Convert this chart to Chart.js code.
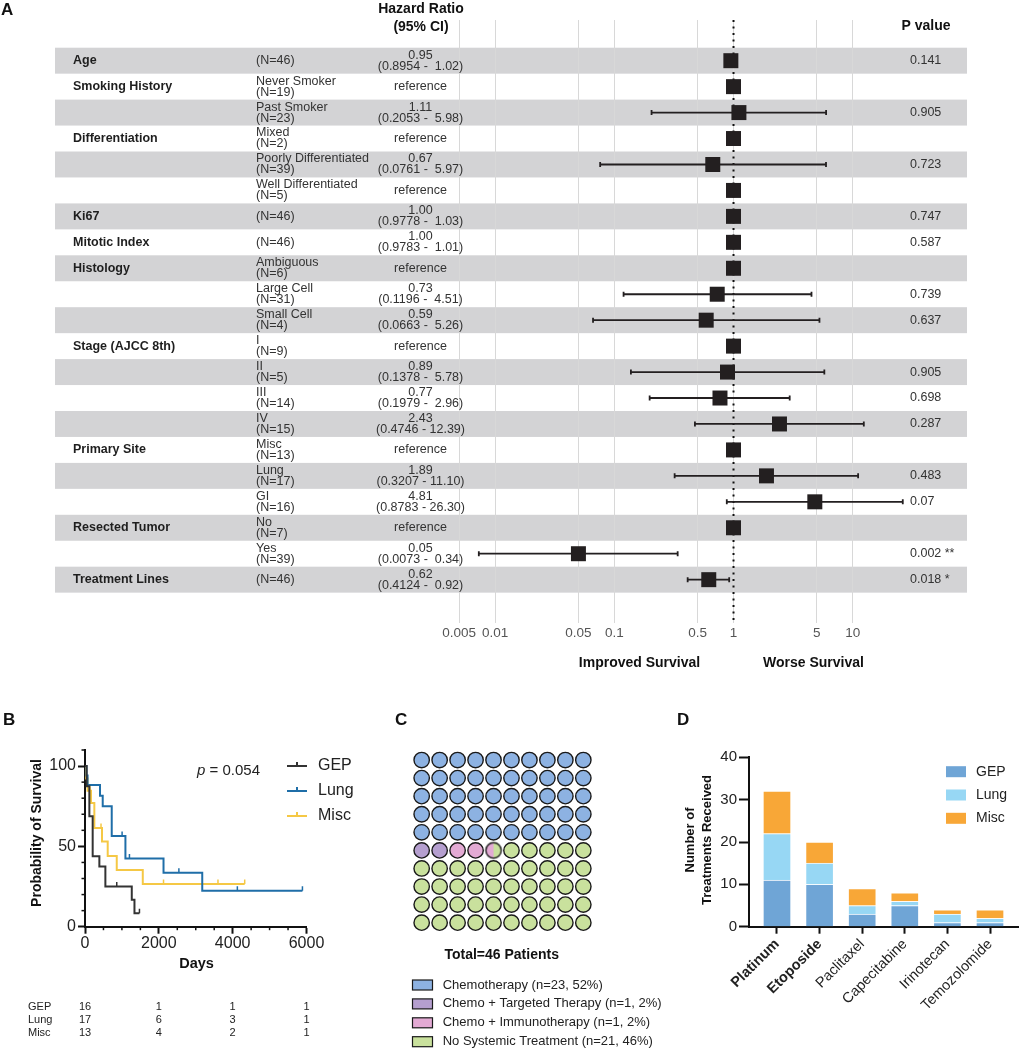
<!DOCTYPE html>
<html>
<head>
<meta charset="utf-8">
<script src="https://cdn.jsdelivr.net/npm/chart.js@4.4.1/dist/chart.umd.min.js"></script>
<style>
  body { margin: 0; background: #fff; }
  #wrap { position: relative; width: 1019px; height: 1050px; overflow: hidden; }
  canvas { position: absolute; }
</style>
</head>
<body>
<div id="wrap">
  <canvas id="forest" width="1019" height="700" style="left:0;top:0"></canvas>
  <canvas id="km" width="370" height="350" style="left:0;top:700px"></canvas>
  <canvas id="waffle" width="340" height="350" style="left:330px;top:700px"></canvas>
  <canvas id="bars" width="349" height="350" style="left:670px;top:700px"></canvas>
</div>
<script>
const FONT = "'Liberation Sans', Arial, Helvetica, sans-serif";

// ---- Panel A: forest plot ----
const rowGroups = ["Age", "Smoking History", "", "Differentiation", "", "", "Ki67", "Mitotic Index", "Histology", "", "",
  "Stage (AJCC 8th)", "", "", "", "Primary Site", "", "", "Resected Tumor", "", "Treatment Lines"];
const rowSubgroups = ["", "Never Smoker", "Past Smoker", "Mixed", "Poorly Differentiated", "Well Differentiated", "", "",
  "Ambiguous", "Large Cell", "Small Cell", "I", "II", "III", "IV", "Misc", "Lung", "GI", "No", "Yes", ""];
const rowN = [46, 19, 23, 2, 39, 5, 46, 46, 6, 31, 4, 9, 5, 14, 15, 13, 17, 16, 7, 39, 46];
const hazard = [0.95, 1, 1.11, 1, 0.67, 1, 1.00, 1.00, 1, 0.73, 0.59, 1, 0.89, 0.77, 2.43, 1, 1.89, 4.81, 1, 0.05, 0.62];
const hrLow = [0.8954, null, 0.2053, null, 0.0761, null, 0.9778, 0.9783, null, 0.1196, 0.0663, null, 0.1378, 0.1979, 0.4746,
  null, 0.3207, 0.8783, null, 0.0073, 0.4124];
const hrHigh = [1.02, null, 5.98, null, 5.97, null, 1.03, 1.01, null, 4.51, 5.26, null, 5.78, 2.96, 12.39,
  null, 11.10, 26.30, null, 0.34, 0.92];
const pValues = ["0.141", "", "0.905", "", "0.723", "", "0.747", "0.587", "", "0.739", "0.637", "", "0.905", "0.698", "0.287",
  "", "0.483", "0.07", "", "0.002 **", "0.018 *"];
const forestTicks = [0.005, 0.01, 0.05, 0.1, 0.5, 1, 5, 10];

// ---- Panel B: Kaplan-Meier ----
const kmNames = ["GEP", "Lung", "Misc"];
const kmColors = ["#333333", "#1f6ea8", "#f5c845"];
const gepDays = [0, 45, 118, 208, 389, 552, 1267, 1340, 1475];
const gepSurv = [100, 87.5, 68.8, 43.8, 37.5, 25.0, 16.7, 8.3, 8.3];
const gepCensorDays = [860, 1475];
const gepCensorSurv = [25.0, 8.3];
const lungDays = [0, 40, 70, 407, 480, 724, 1095, 2127, 3176, 5890];
const lungSurv = [100, 94.1, 88.2, 81.5, 75.0, 56.5, 42.5, 33.6, 22.4, 22.4];
const lungCensorDays = [1005, 1204, 2543, 4127, 5890];
const lungCensorSurv = [56.5, 42.5, 33.6, 22.4, 22.4];
const miscDays = [0, 27, 70, 163, 253, 461, 615, 860, 1565, 4326];
const miscSurv = [100, 92.3, 84.6, 77.0, 61.5, 53.0, 44.0, 35.3, 26.6, 26.6];
const miscCensorDays = [135, 434, 2127, 3602, 4326];
const miscCensorSurv = [84.6, 61.5, 26.6, 26.6, 26.6];
const riskTimes = [0, 2000, 4000, 6000];
const gepAtRisk = [16, 1, 1, 1];
const lungAtRisk = [17, 6, 3, 1];
const miscAtRisk = [13, 4, 2, 1];

// ---- Panel C: waffle ----
const waffleLabels = ["Chemotherapy (n=23, 52%)", "Chemo + Targeted Therapy (n=1, 2%)",
  "Chemo + Immunotherapy (n=1, 2%)", "No Systemic Treatment (n=21, 46%)"];
const waffleCells = [50, 2, 2.5, 45.5];
const waffleColors = ["#8db2e2", "#b59fcf", "#e3aad4", "#c9e19d"];

// ---- Panel D: stacked bars ----
const drugNames = ["Platinum", "Etoposide", "Paclitaxel", "Capecitabine", "Irinotecan", "Temozolomide"];
const drugBold = [true, true, false, false, false, false];
const gepCounts = [11, 10, 3, 5, 1, 1];
const lungCounts = [11, 5, 2, 1, 2, 1];
const miscCounts = [10, 5, 4, 2, 1, 2];
const barNames = ["GEP", "Lung", "Misc"];
const barColors = ["#6fa5d6", "#97d7f4", "#f8a737"];

Chart.defaults.font.family = FONT;
Chart.defaults.color = "#222";
Chart.defaults.animation = false;
Chart.defaults.plugins.legend.display = false;
Chart.defaults.plugins.tooltip.enabled = false;

function txt(ctx, s, x, y, size, opt) {
  opt = opt || {};
  ctx.save();
  ctx.font = (opt.style || "normal") + " " + (opt.weight || "normal") + " " + size + "px " + FONT;
  ctx.fillStyle = opt.color || "#222";
  ctx.textAlign = opt.align || "left";
  ctx.textBaseline = "middle";
  if (opt.rotate) {
    ctx.translate(x, y);
    ctx.rotate(opt.rotate);
    ctx.fillText(s, 0, 0);
  } else {
    ctx.fillText(s, x, y);
  }
  ctx.restore();
}

// forest decorations: bands, whiskers, dotted line, table text
const forestDecor = {
  id: "forestDecor",
  beforeDraw(chart) {
    const ctx = chart.ctx, y = chart.scales.y;
    ctx.save();
    ctx.fillStyle = "#d3d3d5";
    for (let i = 0; i < hazard.length; i += 2) {
      const top = y.getPixelForValue(i - 0.5), bot = y.getPixelForValue(i + 0.5);
      ctx.fillRect(55, top, 967 - 55, bot - top);
    }
    ctx.restore();
  },
  beforeDatasetsDraw(chart) {
    const { ctx, chartArea, scales: { x, y } } = chart;
    ctx.save();
    const x1 = x.getPixelForValue(1);
    ctx.strokeStyle = "#111";
    ctx.lineWidth = 2;
    ctx.setLineDash([2, 4.5]);
    ctx.beginPath();
    ctx.moveTo(x1, chartArea.top);
    ctx.lineTo(x1, chartArea.bottom);
    ctx.stroke();
    ctx.setLineDash([]);
    ctx.strokeStyle = "#231f20";
    ctx.lineWidth = 1.8;
    hrLow.forEach((lo, i) => {
      if (lo == null) return;
      const a = x.getPixelForValue(lo), b = x.getPixelForValue(hrHigh[i]), py = y.getPixelForValue(i);
      ctx.beginPath();
      ctx.moveTo(a, py); ctx.lineTo(b, py);
      ctx.moveTo(a, py - 2.5); ctx.lineTo(a, py + 2.5);
      ctx.moveTo(b, py - 2.5); ctx.lineTo(b, py + 2.5);
      ctx.stroke();
    });
    ctx.restore();
  },
  afterDraw(chart) {
    const { ctx, scales: { y } } = chart;
    txt(ctx, "A", 1, 10, 17, { weight: "bold", color: "#111" });
    txt(ctx, "Hazard Ratio", 421, 9, 14, { weight: "bold", align: "center", color: "#111" });
    txt(ctx, "(95% CI)", 421, 27, 14, { weight: "bold", align: "center", color: "#111" });
    txt(ctx, "P value", 926, 26, 14, { weight: "bold", align: "center", color: "#111" });
    hazard.forEach((h, i) => {
      const cy = y.getPixelForValue(i);
      if (rowGroups[i]) txt(ctx, rowGroups[i], 73, cy, 12.5, { weight: "bold", color: "#1e1e1e" });
      if (rowSubgroups[i]) {
        txt(ctx, rowSubgroups[i], 256, cy - 5.5, 12.5, { color: "#333" });
        txt(ctx, "(N=" + rowN[i] + ")", 256, cy + 5.5, 12.5, { color: "#333" });
      } else {
        txt(ctx, "(N=" + rowN[i] + ")", 256, cy, 12.5, { color: "#333" });
      }
      if (hrLow[i] == null) {
        txt(ctx, "reference", 420.5, cy, 12.5, { align: "center", color: "#333" });
      } else {
        txt(ctx, h.toFixed(2), 420.5, cy - 5.5, 12.5, { align: "center", color: "#333" });
        const ci = "(" + hrLow[i].toFixed(4) + " - " + hrHigh[i].toFixed(2).padStart(5, " ") + ")";
        txt(ctx, ci, 420.5, cy + 5.5, 12.5, { align: "center", color: "#333" });
      }
      if (pValues[i]) txt(ctx, pValues[i], 910, cy, 12.5, { color: "#333" });
    });
    txt(ctx, "Improved Survival", 639.5, 663, 14, { weight: "bold", align: "center", color: "#111" });
    txt(ctx, "Worse Survival", 813.5, 663, 14, { weight: "bold", align: "center", color: "#111" });
  }
};

new Chart(document.getElementById("forest"), {
  type: "scatter",
  data: {
    datasets: [{
      data: hazard.map((v, i) => ({ x: v, y: i })),
      pointStyle: "rect",
      pointRadius: 10.6,
      backgroundColor: "#231f20",
      borderColor: "#231f20",
      borderWidth: 0
    }]
  },
  options: {
    responsive: false,
    layout: { padding: { left: 440, right: 89, top: 20, bottom: 47 } },
    scales: {
      x: {
        type: "logarithmic",
        min: 0.003449,
        max: 44.5,
        afterBuildTicks: s => { s.ticks = forestTicks.map(v => ({ value: v })); },
        afterFit: s => { s.height = 30; },
        grid: { color: "#d8d8d8", drawTicks: false, lineWidth: 1 },
        border: { display: false },
        ticks: { font: { size: 13.5 }, color: "#555", padding: 2, autoSkip: false, maxRotation: 0, callback: v => String(v) }
      },
      y: { type: "linear", reverse: true, min: -1.568, max: 21.67, display: false }
    }
  },
  plugins: [forestDecor]
});

// ---- Panel B ----
function pts(xs, ys) { return xs.map((d, i) => ({ x: d, y: ys[i] })); }
const kmCurves = [pts(gepDays, gepSurv), pts(lungDays, lungSurv), pts(miscDays, miscSurv)];
const kmCensors = [pts(gepCensorDays, gepCensorSurv), pts(lungCensorDays, lungCensorSurv), pts(miscCensorDays, miscCensorSurv)];
const kmRisk = [gepAtRisk, lungAtRisk, miscAtRisk];

const kmDecor = {
  id: "kmDecor",
  afterDraw(chart) {
    const { ctx, scales: { x, y } } = chart;
    ctx.save();
    ctx.strokeStyle = "#111";
    ctx.lineWidth = 1.5;
    for (let v = 10; v <= 110; v += 10) {
      if (v % 50 === 0) continue;
      const py = y.getPixelForValue(v);
      ctx.beginPath(); ctx.moveTo(x.left - 3.5, py); ctx.lineTo(x.left, py); ctx.stroke();
    }
    for (let d = 500; d <= 6000; d += 500) {
      if (d % 2000 === 0) continue;
      const px = x.getPixelForValue(d);
      ctx.beginPath(); ctx.moveTo(px, y.bottom); ctx.lineTo(px, y.bottom + 3.5); ctx.stroke();
    }
    // legend
    kmNames.forEach((n, i) => {
      const ly = 66 + i * 25;
      ctx.strokeStyle = kmColors[i];
      ctx.lineWidth = 2;
      ctx.beginPath(); ctx.moveTo(287, ly); ctx.lineTo(307, ly); ctx.moveTo(297, ly); ctx.lineTo(297, ly - 4); ctx.stroke();
      txt(ctx, n, 318, ly, 16);
    });
    ctx.restore();
    // p value
    ctx.save();
    ctx.font = "italic normal 15px " + FONT;
    const pw = ctx.measureText("p").width;
    ctx.restore();
    txt(ctx, "p", 197, 71, 15, { style: "italic" });
    txt(ctx, " = 0.054", 197 + pw, 71, 15);
    txt(ctx, "B", 3, 20, 17, { weight: "bold", color: "#111" });
    txt(ctx, "Days", 196.5, 264, 14.5, { weight: "bold", align: "center", color: "#111" });
    txt(ctx, "Probability of Survival", 37, 133, 14, { weight: "bold", align: "center", color: "#111", rotate: -Math.PI / 2 });
    // numbers at risk
    kmNames.forEach((n, i) => {
      const ry = 306.7 + i * 13.3;
      txt(ctx, n, 28, ry, 11);
      riskTimes.forEach((t, j) => txt(ctx, String(kmRisk[i][j]), x.getPixelForValue(t), ry, 11, { align: "center" }));
    });
  }
};

const kmSets = [];
kmCurves.forEach((c, i) => kmSets.push({
  type: "line", data: c, borderColor: kmColors[i], borderWidth: 2, stepped: "before", pointRadius: 0, fill: false
}));
kmCensors.forEach((c, i) => kmSets.push({
  type: "scatter", data: c, pointStyle: "dash", pointRotation: -90, pointRadius: 4.5,
  pointBorderColor: kmColors[i], pointBorderWidth: 1.5, showLine: false
}));

new Chart(document.getElementById("km"), {
  type: "line",
  data: { datasets: kmSets },
  options: {
    responsive: false,
    layout: { padding: { left: 35, right: 63.5, top: 50, bottom: 93.3 } },
    scales: {
      x: {
        type: "linear", min: 0, max: 6000,
        afterBuildTicks: s => { s.ticks = riskTimes.map(v => ({ value: v })); },
        afterFit: s => { s.height = 30; },
        grid: { drawOnChartArea: false, tickLength: 7, tickColor: "#111", tickWidth: 2 },
        border: { color: "#111", width: 2 },
        ticks: { font: { size: 16 }, color: "#222", padding: 0, maxRotation: 0, callback: v => String(v) }
      },
      y: {
        type: "linear", min: 0, max: 110,
        afterBuildTicks: s => { s.ticks = [0, 50, 100].map(v => ({ value: v })); },
        afterFit: s => { s.width = 50; },
        grid: { drawOnChartArea: false, tickLength: 7, tickColor: "#111", tickWidth: 2 },
        border: { color: "#111", width: 2 },
        ticks: { font: { size: 16 }, color: "#222", padding: 2 }
      }
    }
  },
  plugins: [kmDecor]
});

// ---- Panel C ----
const halves = [];
waffleCells.forEach((n, c) => { for (let k = 0; k < Math.round(n * 2); k++) halves.push(c); });
const wafflePoints = waffleColors.map(() => []);
const mixedPoints = [];
for (let k = 0; k < 100; k++) {
  const a = halves[2 * k], b = halves[2 * k + 1];
  const p = { x: k % 10, y: Math.floor(k / 10) };
  if (a === b) wafflePoints[a].push(p);
  else mixedPoints.push(Object.assign(p, { left: a, right: b }));
}
function halfDot(left, right) {
  const cv = document.createElement("canvas");
  cv.width = 20; cv.height = 20;
  const g = cv.getContext("2d");
  g.fillStyle = left;
  g.beginPath(); g.arc(10, 10, 7.7, Math.PI / 2, Math.PI * 1.5); g.closePath(); g.fill();
  g.fillStyle = right;
  g.beginPath(); g.arc(10, 10, 7.7, -Math.PI / 2, Math.PI / 2); g.closePath(); g.fill();
  g.strokeStyle = "#1a1a1a"; g.lineWidth = 1.4;
  g.beginPath(); g.arc(10, 10, 7.7, 0, Math.PI * 2); g.stroke();
  return cv;
}
const mixedImgs = mixedPoints.map(p => halfDot(waffleColors[p.left], waffleColors[p.right]));

const waffleDecor = {
  id: "waffleDecor",
  afterDraw(chart) {
    const ctx = chart.ctx;
    txt(ctx, "C", 65, 20, 17, { weight: "bold", color: "#111" });
    txt(ctx, "Total=46 Patients", 171.7, 255, 14, { weight: "bold", align: "center", color: "#111" });
    waffleLabels.forEach((l, i) => {
      const ly = 285 + i * 18.9;
      ctx.save();
      ctx.fillStyle = waffleColors[i];
      ctx.strokeStyle = "#1a1a1a";
      ctx.lineWidth = 1.2;
      ctx.fillRect(82.5, ly - 5, 20, 10);
      ctx.strokeRect(82.5, ly - 5, 20, 10);
      ctx.restore();
      txt(ctx, l, 112.7, ly, 13, { color: "#222" });
    });
  }
};

const waffleSets = wafflePoints.map((p, i) => ({
  data: p, backgroundColor: waffleColors[i], borderColor: "#1a1a1a", borderWidth: 1.4, pointRadius: 7.7
}));
waffleSets.push({ data: mixedPoints, pointStyle: c => mixedImgs[c.dataIndex], pointRadius: 7.7 });

new Chart(document.getElementById("waffle"), {
  type: "scatter",
  data: { datasets: waffleSets },
  options: {
    responsive: false,
    layout: { padding: { left: 82.7, right: 77.7, top: 51, bottom: 118.3 } },
    scales: {
      x: { type: "linear", min: -0.5, max: 9.5, display: false },
      y: { type: "linear", min: -0.5, max: 9.5, reverse: true, display: false }
    }
  },
  plugins: [waffleDecor]
});

// ---- Panel D ----
const barDecor = {
  id: "barDecor",
  afterDraw(chart) {
    const ctx = chart.ctx;
    txt(ctx, "D", 7, 20, 17, { weight: "bold", color: "#111" });
    txt(ctx, "Number of", 20, 140, 13, { weight: "bold", align: "center", color: "#111", rotate: -Math.PI / 2 });
    txt(ctx, "Treatments Received", 37, 140, 13, { weight: "bold", align: "center", color: "#111", rotate: -Math.PI / 2 });
    barNames.forEach((n, i) => {
      const ly = 71.7 + i * 23.3;
      ctx.save();
      ctx.fillStyle = barColors[i];
      ctx.fillRect(276, ly - 5.5, 20, 11);
      ctx.restore();
      txt(ctx, n, 306, ly, 14);
    });
  }
};

const barSeries = [gepCounts, lungCounts, miscCounts];
new Chart(document.getElementById("bars"), {
  type: "bar",
  data: {
    datasets: barSeries.map((s, i) => ({
      label: barNames[i],
      data: s.map((v, j) => ({ x: j, y: v })),
      backgroundColor: barColors[i],
      borderColor: "rgba(255,255,255,0.45)",
      borderWidth: 1,
      barThickness: 28
    }))
  },
  options: {
    responsive: false,
    layout: { padding: { left: 39, right: 1, top: 57.3, bottom: 13.3 } },
    scales: {
      x: {
        type: "linear", stacked: true, offset: false, min: -0.657, max: 5.657,
        afterBuildTicks: s => { s.ticks = drugNames.map((n, j) => ({ value: j })); },
        afterFit: s => { s.height = 110; },
        grid: { offset: false, drawOnChartArea: false, tickLength: 7, tickColor: "#111", tickWidth: 2 },
        border: { color: "#111", width: 2 },
        ticks: {
          autoSkip: false, minRotation: 45, maxRotation: 45, padding: 2, color: "#222",
          font: c => ({ size: 14.5, weight: drugBold[c.index] ? "bold" : "normal" }),
          callback: v => drugNames[v]
        }
      },
      y: {
        stacked: true, min: 0, max: 40,
        ticks: { stepSize: 10, font: { size: 15 }, color: "#222", padding: 2 },
        afterFit: s => { s.width = 40; },
        grid: { drawOnChartArea: false, tickLength: 10, tickColor: "#111", tickWidth: 2 },
        border: { color: "#111", width: 2 }
      }
    }
  },
  plugins: [barDecor]
});
</script>
</body>
</html>
